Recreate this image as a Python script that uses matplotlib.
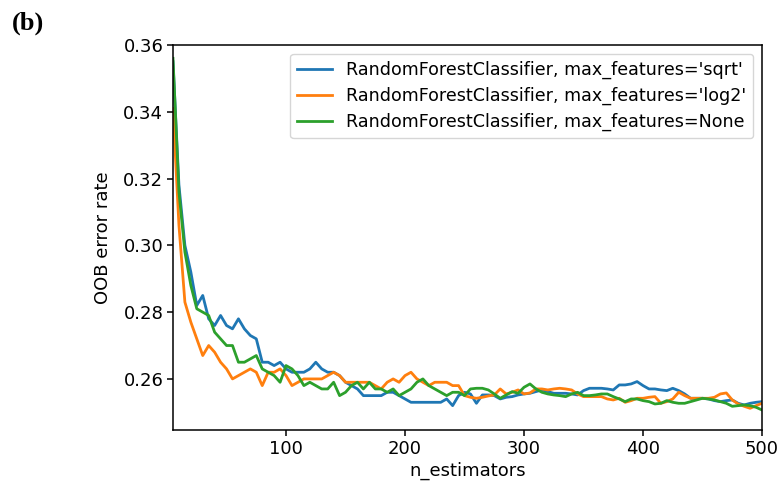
import numpy as np
import matplotlib
matplotlib.use("Agg")
import matplotlib.pyplot as plt

# OOB error rate vs number of trees, sampled every 5 estimators
n_estimators = np.arange(5, 501, 5)

err_sqrt = [
    0.355, 0.318, 0.300, 0.292, 0.282, 0.285, 0.278, 0.276, 0.279, 0.276,
    0.275, 0.278, 0.275, 0.273, 0.272, 0.265, 0.265, 0.264, 0.265, 0.263,
    0.262, 0.262, 0.262, 0.263, 0.265, 0.263, 0.262, 0.262, 0.261, 0.259,
    0.258, 0.257, 0.255, 0.255, 0.255, 0.255, 0.256, 0.256, 0.255, 0.254,
    0.253, 0.253, 0.253, 0.253, 0.253, 0.253, 0.254, 0.252, 0.255, 0.256,
    0.2555, 0.2527, 0.2552, 0.2552, 0.2550, 0.2540, 0.2545, 0.2547, 0.2552, 0.2555,
    0.2557, 0.2562, 0.2567, 0.2562, 0.2557, 0.2557, 0.2557, 0.2555, 0.2552, 0.2565,
    0.2572, 0.2572, 0.2572, 0.2570, 0.2567, 0.2582, 0.2582, 0.2585, 0.2592, 0.2580,
    0.2570, 0.2570, 0.2567, 0.2565, 0.2572, 0.2565, 0.2555, 0.2542, 0.2542, 0.2542,
    0.2540, 0.2535, 0.2532, 0.2535, 0.2537, 0.2527, 0.2522, 0.2527, 0.2530, 0.2532,
]

err_log2 = [
    0.341, 0.306, 0.283, 0.277, 0.272, 0.267, 0.270, 0.268, 0.265, 0.263,
    0.260, 0.261, 0.262, 0.263, 0.262, 0.258, 0.262, 0.262, 0.263, 0.261,
    0.258, 0.259, 0.260, 0.260, 0.260, 0.260, 0.261, 0.262, 0.261, 0.259,
    0.259, 0.259, 0.259, 0.259, 0.258, 0.257, 0.259, 0.260, 0.259, 0.261,
    0.262, 0.260, 0.259, 0.258, 0.259, 0.259, 0.259, 0.258, 0.258, 0.255,
    0.2545, 0.2542, 0.2545, 0.2549, 0.2552, 0.2570, 0.2555, 0.2560, 0.2567, 0.2555,
    0.2558, 0.2570, 0.2570, 0.2567, 0.2570, 0.2572, 0.2570, 0.2567, 0.2555, 0.2547,
    0.2547, 0.2547, 0.2547, 0.2540, 0.2537, 0.2542, 0.2530, 0.2535, 0.2542, 0.2542,
    0.2545, 0.2547, 0.2527, 0.2532, 0.2540, 0.2560, 0.2550, 0.2542, 0.2542, 0.2542,
    0.2542, 0.2545, 0.2555, 0.2558, 0.2537, 0.2525, 0.2518, 0.2512, 0.2520, 0.2527,
]

err_none = [
    0.356, 0.316, 0.298, 0.288, 0.281, 0.280, 0.279, 0.274, 0.272, 0.270,
    0.270, 0.265, 0.265, 0.266, 0.267, 0.263, 0.262, 0.261, 0.259, 0.264,
    0.263, 0.261, 0.258, 0.259, 0.258, 0.257, 0.257, 0.259, 0.255, 0.256,
    0.258, 0.259, 0.257, 0.259, 0.257, 0.257, 0.256, 0.257, 0.255, 0.256,
    0.257, 0.259, 0.260, 0.258, 0.257, 0.256, 0.255, 0.256, 0.256, 0.255,
    0.2570, 0.2572, 0.2572, 0.2567, 0.2555, 0.2542, 0.2552, 0.2562, 0.2557, 0.2575,
    0.2585, 0.2570, 0.2560, 0.2555, 0.2552, 0.2550, 0.2547, 0.2555, 0.2560, 0.2550,
    0.2550, 0.2552, 0.2555, 0.2555, 0.2547, 0.2540, 0.2532, 0.2540, 0.2540, 0.2535,
    0.2532, 0.2525, 0.2527, 0.2535, 0.2530, 0.2527, 0.2527, 0.2532, 0.2537, 0.2542,
    0.2540, 0.2537, 0.2532, 0.2527, 0.2518, 0.2520, 0.2522, 0.2520, 0.2515, 0.2507,
]

labels = [
    "RandomForestClassifier, max_features='sqrt'",
    "RandomForestClassifier, max_features='log2'",
    "RandomForestClassifier, max_features=None",
]

plt.rcParams["font.family"] = ["DejaVu Sans"]

fig = plt.figure(figsize=(7.81, 4.86), dpi=100)
ax = fig.add_axes([0.2215, 0.1152, 0.7542, 0.7922])

for err, label in zip([err_sqrt, err_log2, err_none], labels):
    ax.plot(n_estimators, err, lw=2.0, label=label)

ax.set_xlim(n_estimators[0], n_estimators[-1])
ax.set_ylim(0.2447, 0.36)
ax.set_xticks([100, 200, 300, 400, 500])
ax.set_yticks([0.26, 0.28, 0.30, 0.32, 0.34, 0.36])
ax.tick_params(labelsize=13, length=4.5, width=1.1, pad=2.5)
for spine in ax.spines.values():
    spine.set_linewidth(1.1)

ax.set_xlabel("n_estimators", fontsize=13, labelpad=3)
ax.set_ylabel("OOB error rate", fontsize=13, labelpad=8)
ax.legend(loc="upper right", fontsize=12.6, handlelength=2.0,
          borderaxespad=0.5, labelspacing=0.45)

# panel tag
fig.text(0.015, 0.94, "(b)", fontsize=19, fontweight="bold",
         family="Liberation Serif")

fig.savefig("out.png", dpi=100)
